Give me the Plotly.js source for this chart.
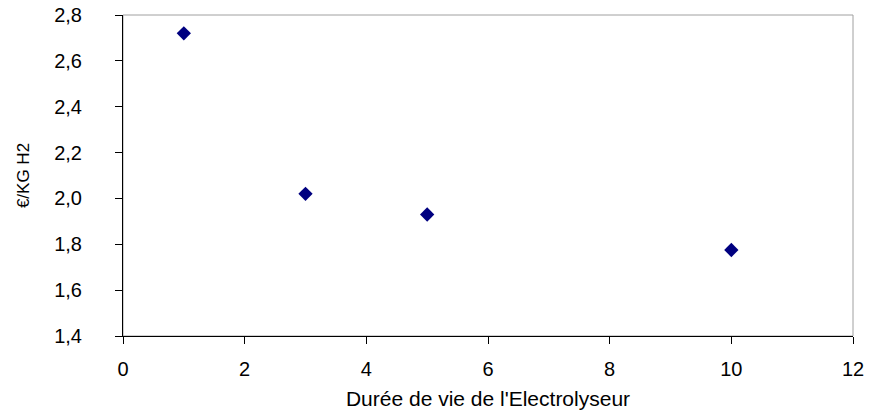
<!DOCTYPE html>
<html>
<head>
<meta charset="utf-8">
<script src="https://cdn.plot.ly/plotly-3.0.1.min.js"></script>
<style>html,body{margin:0;padding:0;background:#fff;}#chart{width:869px;height:417px;}</style>
</head>
<body>
<div id="chart"></div>
<script>
const dureeVie = [1, 3, 5, 10];
const coutKgH2 = [2.72, 2.02, 1.93, 1.775];
const xTicks = [0, 2, 4, 6, 8, 10, 12];
const yTicks = [1.4, 1.6, 1.8, 2.0, 2.2, 2.4, 2.6, 2.8];
const yTickLabels = yTicks.map(v => v.toFixed(1).replace('.', ','));

const FONT = 'Liberation Sans, Arial, sans-serif';

const trace = {
  x: dureeVie,
  y: coutKgH2,
  mode: 'markers',
  type: 'scatter',
  marker: {symbol: 'diamond', size: 11, color: '#000080'},
  hoverinfo: 'x+y'
};

const layout = {
  width: 869, height: 417,
  margin: {l: 123, r: 16, t: 15, b: 81},
  paper_bgcolor: '#ffffff',
  plot_bgcolor: '#ffffff',
  showlegend: false,
  font: {family: FONT, color: '#000000', size: 20},
  xaxis: {
    range: [0, 12],
    tickvals: xTicks,
    ticktext: xTicks.map(String),
    showgrid: false, zeroline: false,
    showline: true, linecolor: '#000000', linewidth: 1,
    ticks: 'outside', ticklen: 7, tickcolor: '#000000', tickwidth: 1,
    ticklabelstandoff: 8,
    tickfont: {family: FONT, size: 20, color: '#000'},
    title: {text: "Durée de vie de l'Electrolyseur", font: {family: FONT, size: 21, color: '#000'}, standoff: 12},
    automargin: false
  },
  yaxis: {
    range: [1.4, 2.8],
    tickvals: yTicks,
    ticktext: yTickLabels,
    showgrid: false, zeroline: false,
    showline: true, linecolor: '#000000', linewidth: 1,
    ticks: 'outside', ticklen: 7, tickcolor: '#000000', tickwidth: 1,
    ticklabelstandoff: 29,
    tickfont: {family: FONT, size: 20, color: '#000'},
    title: {text: '€/KG H2', font: {family: FONT, size: 17, color: '#000'}, standoff: 20},
    automargin: false
  },
  shapes: [{
    type: 'rect', xref: 'paper', yref: 'paper', x0: 0, x1: 1, y0: 0, y1: 1,
    line: {color: '#a0a0a0', width: 1}, layer: 'below'
  }]
};

Plotly.newPlot('chart', [trace], layout, {staticPlot: true, displayModeBar: false});
</script>
</body>
</html>
